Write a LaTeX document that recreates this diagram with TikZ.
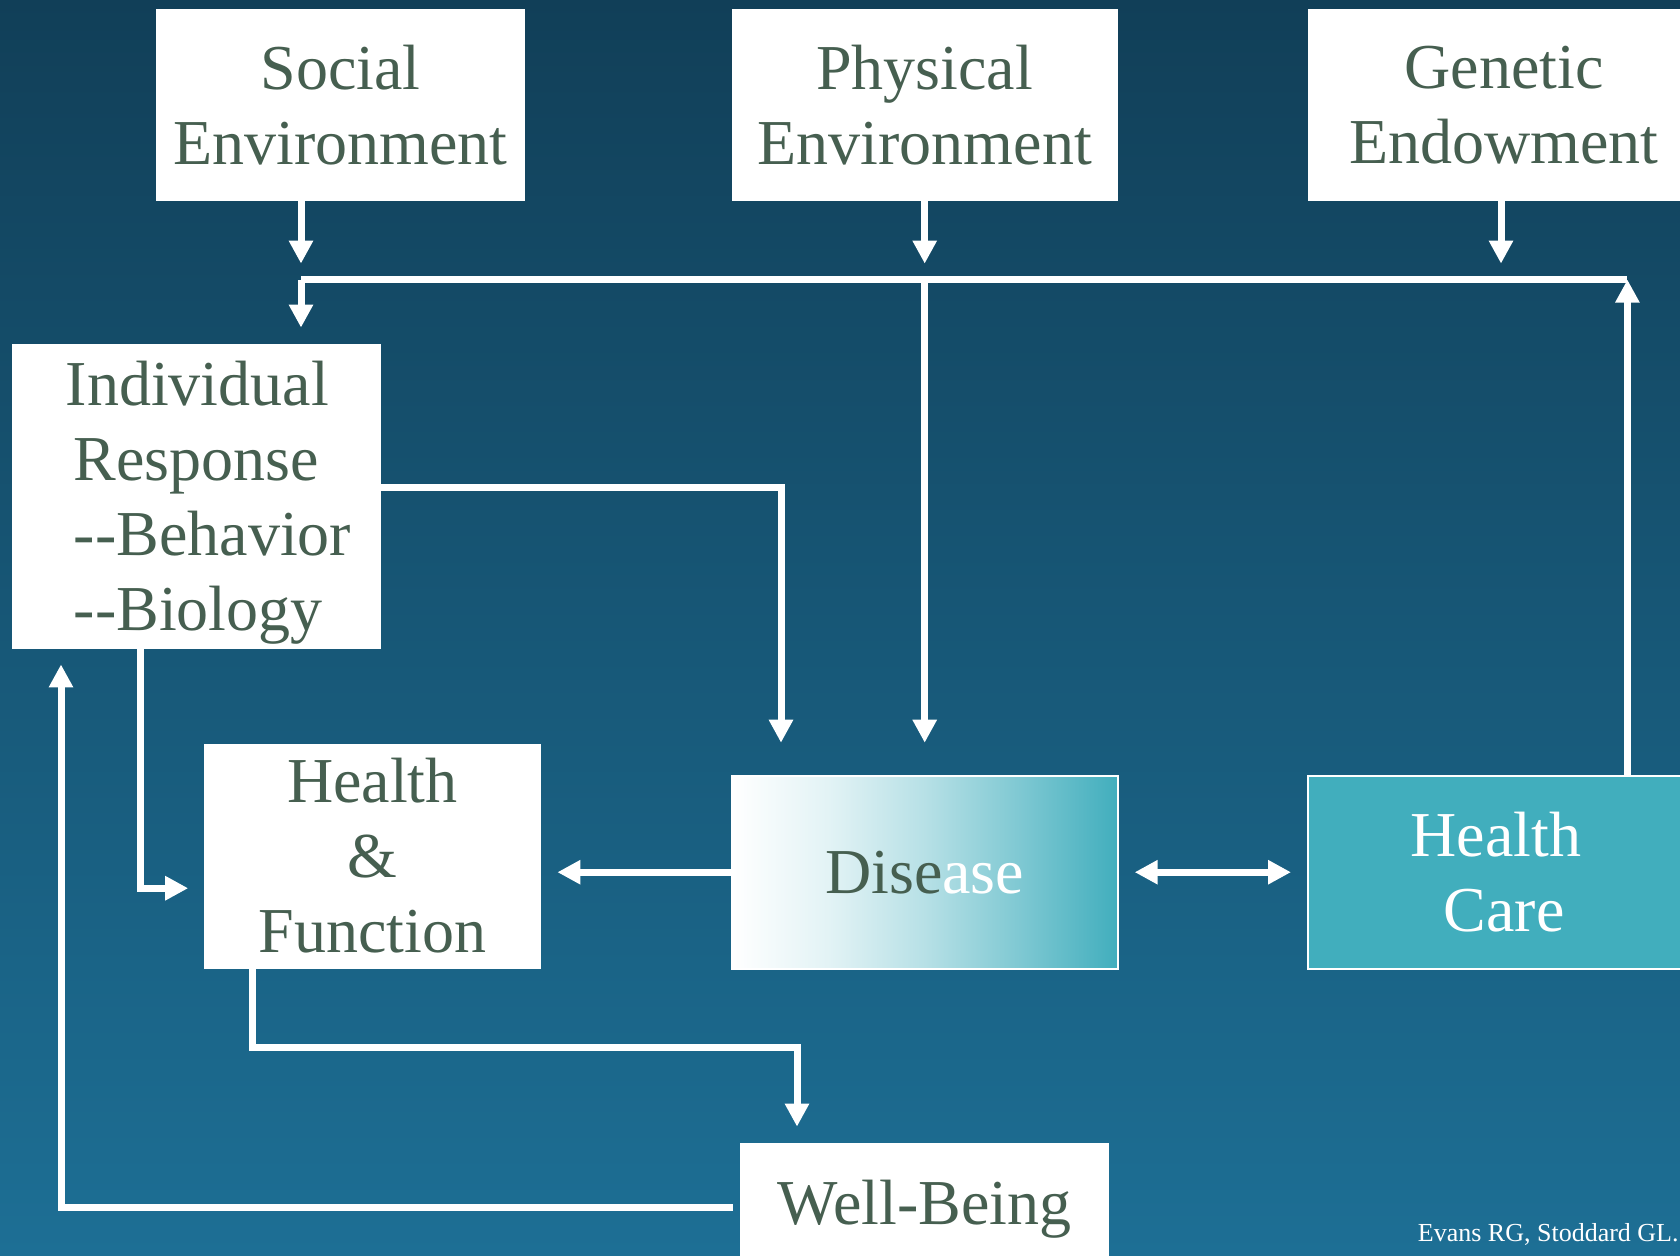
\documentclass[tikz,border=0pt]{standalone}
\usepackage{fontspec}
\setmainfont{Liberation Serif}
\usepackage{tikz}
\usetikzlibrary{arrows.meta}

\definecolor{txtgreen}{HTML}{465F50}
\definecolor{teal}{HTML}{41AEBD}
\definecolor{bgtop}{HTML}{113F58}
\definecolor{bgbot}{HTML}{1D6F95}
\pgfdeclarehorizontalshading{diseasefade}{100bp}{color(0bp)=(white); color(25bp)=(white);
  color(37.5bp)=(teal!15!white); color(50bp)=(teal!38!white); color(62.5bp)=(teal!68!white);
  color(75bp)=(teal); color(100bp)=(teal)}

\tikzset{
  box/.style={fill=white, text=txtgreen, font=\fontsize{32}{37.5}\selectfont, align=center, inner sep=0pt},
  arr/.style={draw=white, line width=3.5pt, line join=miter, -{Triangle[length=11.5pt,width=11.5pt]}},
}

\begin{document}
\begin{tikzpicture}[x=0.5pt, y=-0.5pt]
  \useasboundingbox (0,0) rectangle (1680,1255);
  \clip (0,0) rectangle (1680,1255);
  \fill[top color=bgtop, bottom color=bgbot] (0,0) rectangle (1680,1255);

  % determinants
  \node[box, minimum width=184.5pt, minimum height=96pt] (social) at (340.5,105) {Social\\Environment};
  \node[box, minimum width=193pt, minimum height=96pt] (physical) at (924.7,105) {Physical\\Environment};
  \node[box, minimum width=196pt, minimum height=96pt] (genetic) at (1504,105) {Genetic\\Endowment};
  \node[box, minimum width=184.5pt, minimum height=152.5pt, align=left] (indiv) at (196.5,496.5)
    {\rule{0pt}{28.3pt}\hspace*{12pt}Individual\\\hspace*{16pt}Response\\
     \hspace*{16pt}\mbox{-}\mbox{-}Behavior\\\hspace*{16pt}\mbox{-}\mbox{-}Biology};
  \node[box, minimum width=168.7pt, minimum height=112.5pt] (hf) at (372.3,856) {Health\\\&\\Function};
  \node[box, minimum width=193pt, minimum height=96.5pt, fill=none, shading=diseasefade, draw=white, line width=1pt]
    (disease) at (924.7,872.2) {Dise{\color{white}ase}};
  \node[box, minimum width=196pt, minimum height=96.5pt, fill=teal, draw=white, line width=1pt, text=white]
    (hcare) at (1504,872.2) {Health\hspace*{8pt}\\Care};
  \node[box, minimum width=184.5pt, minimum height=66pt] (wb) at (924.5,1209) {Well-Being};
  \node[anchor=base east, text=white, font=\fontsize{13}{16}\selectfont, inner sep=0pt] (credit) at (1679,1241) {Evans RG, Stoddard GL.};

  % bus points and bends
  \coordinate (bus-s) at (301,279.6);
  \coordinate (bus-p) at (924.7,279.6);
  \coordinate (bus-g) at (1501,279.6);
  \coordinate (bus-h) at (1627.4,279.6);
  \coordinate (c-id) at (781,487.5);
  \coordinate (c-ih) at (140.4,888.2);
  \coordinate (c-hw0) at (252.9,1047.9);
  \coordinate (c-hw) at (797,1047.9);
  \coordinate (c-wi) at (61,1207.5);

  \draw[white, line width=3.5pt] (bus-s) -- (bus-h);
  \draw[arr, shorten >=8pt] (social.south -| bus-s) -- (bus-s);
  \draw[arr, shorten >=8pt] (physical.south) -- (bus-p);
  \draw[arr, shorten >=8pt] (genetic.south -| bus-g) -- (bus-g);
  \draw[arr, shorten >=8pt] (bus-s) -- (indiv.north -| bus-s);
  \draw[arr, shorten >=16pt] (bus-p) -- (disease.north);
  \draw[arr] (hcare.north -| bus-h) -- (bus-h);
  \draw[arr, shorten >=16pt] (indiv.east |- c-id) -- (c-id) -- (c-id |- disease.north);
  \draw[arr, shorten >=7.5pt] (indiv.south -| c-ih) -- (c-ih) -- (c-ih -| hf.west);
  \draw[arr, shorten >=8pt] (disease.west) -- (disease.west -| hf.east);
  \draw[arr, {Triangle[length=11.5pt,width=11.5pt]}-{Triangle[length=11.5pt,width=11.5pt]}, shorten >=8pt, shorten <=8pt] (disease.east) -- (hcare.west);
  \draw[arr, shorten >=8pt] (hf.south -| c-hw0) -- (c-hw0) -- (c-hw) -- (c-hw |- wb.north);
  \draw[arr, shorten >=7.5pt, shorten <=3.5pt] (wb.west |- c-wi) -- (c-wi) -- (c-wi |- indiv.south);
\end{tikzpicture}
\end{document}
